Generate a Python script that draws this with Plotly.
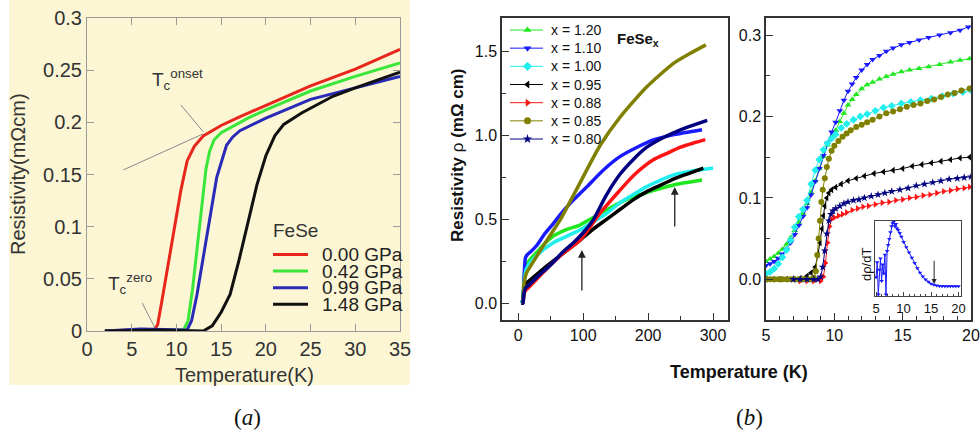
import plotly.graph_objects as go

W, H = 980, 432


def fx(px):
    return px / W


def fy(py):
    return 1 - py / H


# ---------------- Panel (a): FeSe under pressure ----------------
pressures = ["0.00 GPa", "0.42 GPa", "0.99 GPa", "1.48 GPa"]
colors_a = ["#e8261c", "#3ae63a", "#2a2ab8", "#111111"]

T_000 = [2, 5, 7.5, 7.9, 8.5, 9.5, 10.5, 11.2, 12, 13, 15, 17, 20, 25, 30, 35]
R_000 = [0, 0.001, 0.001, 0.006, 0.035, 0.085, 0.135, 0.163, 0.177, 0.187, 0.197, 0.205, 0.216, 0.235, 0.251, 0.270]

T_042 = [2, 6, 10.8, 11.3, 11.8, 12.3, 12.8, 13.3, 13.7, 14.2, 15, 16.3, 18, 20, 25, 30, 35]
R_042 = [0, 0.001, 0.001, 0.01, 0.04, 0.08, 0.12, 0.155, 0.172, 0.183, 0.19, 0.196, 0.204, 0.212, 0.230, 0.244, 0.257]

T_099 = [2, 6, 11.2, 11.7, 12.3, 13, 13.75, 14.5, 15.6, 16.3, 17.1, 18.5, 20, 25, 30, 35]
R_099 = [0, 0.002, 0.001, 0.01, 0.035, 0.07, 0.106, 0.147, 0.178, 0.186, 0.192, 0.198, 0.204, 0.222, 0.233, 0.244]

T_148 = [2, 8, 13, 14, 15, 16, 17, 18, 19, 20, 21, 22, 24, 27.5, 30, 35]
R_148 = [0, 0.001, 0.0, 0.005, 0.018, 0.035, 0.068, 0.105, 0.14, 0.168, 0.187, 0.198, 0.209, 0.225, 0.233, 0.248]

curves_a = [(T_000, R_000), (T_042, R_042), (T_099, R_099), (T_148, R_148)]

# ---------------- Panel (b): FeSe_x, full range ----------------
x_labels = ["x = 1.20", "x = 1.10", "x = 1.00", "x = 0.95", "x = 0.88", "x = 0.85", "x = 0.80"]
colors_b = ["#1fe81f", "#1a1aff", "#22eeee", "#000000", "#ff1414", "#808000", "#000080"]
symbols_b = ["triangle-up", "triangle-down", "diamond", "triangle-left", "triangle-right", "circle", "star"]

T_full_120 = [5, 7, 9, 11, 14, 18, 30, 42, 54, 75, 95, 115, 136, 157, 178, 198, 220, 239, 260, 283]
R_full_120 = [0, 0.02, 0.15, 0.22, 0.24, 0.26, 0.31, 0.36, 0.40, 0.44, 0.466, 0.51, 0.556, 0.60, 0.635, 0.66, 0.685, 0.705, 0.72, 0.735]

T_full_110 = [5, 7, 9, 11, 14, 20, 29, 40, 54, 65, 80, 106, 130, 157, 183, 208, 240, 283]
R_full_110 = [0, 0.02, 0.15, 0.27, 0.29, 0.31, 0.347, 0.41, 0.475, 0.53, 0.595, 0.695, 0.79, 0.875, 0.93, 0.974, 1.005, 1.034]

T_full_100 = [5, 7, 9, 12, 18, 30, 54, 75, 95, 115, 136, 157, 178, 198, 220, 239, 270, 300]
R_full_100 = [0, 0.02, 0.12, 0.2, 0.24, 0.29, 0.36, 0.40, 0.436, 0.485, 0.535, 0.60, 0.65, 0.695, 0.735, 0.765, 0.79, 0.806]

T_full_095 = [5, 7, 9, 12, 18, 40, 70, 95, 115, 136, 157, 177, 198, 220, 239, 260, 285]
R_full_095 = [0, 0.0, 0.1, 0.12, 0.137, 0.21, 0.30, 0.375, 0.44, 0.50, 0.56, 0.616, 0.665, 0.705, 0.74, 0.77, 0.805]

T_full_088 = [5, 7, 9, 12, 15, 30, 50, 70, 95, 126, 157, 180, 208, 230, 250, 270, 288]
R_full_088 = [0, 0.0, 0.06, 0.08, 0.09, 0.15, 0.23, 0.30, 0.375, 0.537, 0.675, 0.77, 0.855, 0.895, 0.93, 0.955, 0.975]

T_full_085 = [5, 7, 8, 9, 11, 14, 18, 30, 45, 65, 90, 126, 157, 198, 239, 265, 289]
R_full_085 = [0, 0.0, 0.05, 0.12, 0.16, 0.19, 0.215, 0.29, 0.38, 0.50, 0.68, 0.94, 1.11, 1.29, 1.43, 1.49, 1.54]

T_full_080 = [5, 7, 9, 11, 14, 30, 50, 70, 85, 100, 116, 135, 157, 178, 198, 220, 239, 265, 291]
R_full_080 = [0, 0.0, 0.06, 0.09, 0.10, 0.16, 0.23, 0.31, 0.36, 0.42, 0.50, 0.64, 0.77, 0.86, 0.93, 0.98, 1.015, 1.055, 1.09]

curves_full = [
    (T_full_120, R_full_120), (T_full_110, R_full_110), (T_full_100, R_full_100),
    (T_full_095, R_full_095), (T_full_088, R_full_088), (T_full_085, R_full_085),
    (T_full_080, R_full_080),
]

# ---------------- Panel (b): low-temperature detail ----------------
T_low_120 = [5.0, 5.3, 5.6, 5.9, 6.2, 6.5, 6.8, 7.1, 7.4, 7.7, 8.0, 8.3, 8.6, 8.9, 9.2, 9.5, 9.8, 10.1, 10.4,
             10.7, 11.0, 11.3, 11.6, 12.0, 12.4, 12.8, 13.3, 13.8, 14.3, 14.9, 15.5, 16.2, 16.9, 17.7, 18.5, 19.2, 19.9]
R_low_120 = [0.022, 0.025, 0.028, 0.032, 0.037, 0.043, 0.051, 0.060, 0.070, 0.081, 0.093, 0.107, 0.121, 0.136,
             0.151, 0.165, 0.175, 0.183, 0.194, 0.204, 0.214, 0.221, 0.227, 0.234, 0.239, 0.242, 0.246, 0.249,
             0.252, 0.255, 0.257, 0.259, 0.261, 0.264, 0.267, 0.269, 0.271]

T_low_110 = [5.0, 5.3, 5.6, 5.9, 6.2, 6.5, 6.8, 7.1, 7.4, 7.7, 8.0, 8.3, 8.6, 8.9, 9.2, 9.5, 9.8, 10.1, 10.4,
             10.7, 11.0, 11.3, 11.6, 12.0, 12.4, 12.8, 13.3, 13.8, 14.3, 14.9, 15.5, 16.2, 16.9, 17.7, 18.5, 19.2, 19.8]
R_low_110 = [0.017, 0.019, 0.022, 0.026, 0.031, 0.037, 0.045, 0.055, 0.066, 0.077, 0.088, 0.104, 0.120, 0.136,
             0.152, 0.167, 0.181, 0.193, 0.207, 0.220, 0.231, 0.240, 0.248, 0.257, 0.264, 0.270, 0.275, 0.280,
             0.284, 0.288, 0.291, 0.294, 0.297, 0.300, 0.303, 0.306, 0.310]

T_low_100 = [5.0, 5.3, 5.6, 5.9, 6.2, 6.5, 6.8, 7.1, 7.4, 7.7, 8.0, 8.3, 8.6, 8.9, 9.2, 9.5, 9.8, 10.1, 10.5,
             10.9, 11.4, 11.9, 12.4, 13.0, 13.6, 14.2, 14.9, 15.6, 16.3, 17.1, 17.9, 18.7, 19.4, 20.0]
R_low_100 = [0.007, 0.009, 0.013, 0.019, 0.027, 0.036, 0.048, 0.064, 0.077, 0.086, 0.097, 0.117, 0.134, 0.147,
             0.159, 0.167, 0.173, 0.178, 0.186, 0.191, 0.196, 0.200, 0.203, 0.207, 0.211, 0.213, 0.216, 0.218,
             0.220, 0.222, 0.225, 0.228, 0.230, 0.232]

T_low_095 = [5.0, 5.5, 6.0, 6.5, 7.0, 7.5, 8.0, 8.3, 8.6, 8.8, 8.95, 9.1, 9.2, 9.3, 9.45, 9.6, 9.8, 10.1, 10.5,
             11.0, 11.6, 12.2, 12.9, 13.6, 14.3, 15.0, 15.7, 16.4, 17.1, 17.8, 18.5, 19.2, 19.9]
R_low_095 = [0.0, 0.0, 0.0, 0.0, 0.0, 0.001, 0.004, 0.008, 0.015, 0.03, 0.045, 0.062, 0.078, 0.09, 0.1, 0.106,
             0.11, 0.113, 0.117, 0.121, 0.124, 0.127, 0.13, 0.132, 0.134, 0.136, 0.139, 0.141, 0.143, 0.145,
             0.147, 0.149, 0.150]

T_low_088 = [7.5, 8.0, 8.5, 9.0, 9.2, 9.35, 9.5, 9.65, 9.8, 10.0, 10.3, 10.6, 10.9, 11.3, 11.7, 12.1, 12.5,
             13.0, 13.5, 14.0, 14.5, 15.0, 15.5, 16.0, 16.5, 17.0, 17.5, 18.0, 18.5, 19.0, 19.5, 19.9]
R_low_088 = [-0.002, -0.002, -0.002, -0.002, 0.003, 0.02, 0.045, 0.065, 0.074, 0.076, 0.078, 0.08, 0.082,
             0.085, 0.087, 0.089, 0.09, 0.092, 0.094, 0.095, 0.097, 0.098, 0.1, 0.101, 0.103, 0.104, 0.106,
             0.108, 0.109, 0.111, 0.112, 0.1135]

T_low_085 = [5.0, 5.3, 5.6, 5.9, 6.2, 6.5, 6.8, 7.1, 7.4, 7.7, 8.0, 8.3, 8.5, 8.65, 8.75, 8.85, 8.95, 9.05,
             9.15, 9.3, 9.45, 9.6, 9.8, 10.0, 10.3, 10.6, 10.9, 11.2, 11.6, 12.0, 12.4, 12.8, 13.3, 13.8, 14.3,
             14.8, 15.3, 15.8, 16.3, 16.8, 17.3, 17.8, 18.3, 18.8, 19.3, 19.9]
R_low_085 = [0.0, 0.0, 0.0, 0.0, 0.0, 0.0, 0.0, 0.0, 0.0, 0.0, 0.0, 0.0, 0.002, 0.01, 0.03, 0.05, 0.072, 0.095,
             0.11, 0.124, 0.138, 0.148, 0.158, 0.164, 0.170, 0.175, 0.179, 0.183, 0.187, 0.190, 0.193, 0.196,
             0.2, 0.204, 0.206, 0.209, 0.212, 0.214, 0.216, 0.219, 0.221, 0.224, 0.227, 0.229, 0.232, 0.2345]

T_low_080 = [7.0, 7.5, 8.0, 8.5, 8.8, 9.0, 9.15, 9.3, 9.45, 9.6, 9.75, 9.9, 10.1, 10.4, 10.7, 11.0, 11.4, 11.8,
             12.2, 12.7, 13.2, 13.7, 14.2, 14.8, 15.4, 16.0, 16.6, 17.2, 17.8, 18.4, 19.0, 19.5, 20.0]
R_low_080 = [0.0, 0.0, 0.0, 0.0, 0.0, 0.003, 0.015, 0.035, 0.056, 0.072, 0.08, 0.084, 0.087, 0.09, 0.093, 0.095,
             0.097, 0.098, 0.1, 0.102, 0.104, 0.106, 0.108, 0.11, 0.112, 0.115, 0.117, 0.119, 0.121, 0.123,
             0.124, 0.125, 0.126]

curves_low = [
    (T_low_120, R_low_120), (T_low_110, R_low_110), (T_low_100, R_low_100),
    (T_low_095, R_low_095), (T_low_088, R_low_088), (T_low_085, R_low_085),
    (T_low_080, R_low_080),
]

# Inset: derivative of resistivity for x = 1.10 (arbitrary units)
T_deriv = [5.0, 5.2, 5.4, 5.6, 5.8, 6.0, 6.2, 6.4, 6.6, 6.8, 7.0, 7.2, 7.4, 7.6, 7.8, 8.0, 8.2, 8.4, 8.6, 8.8,
           9.0, 9.3, 9.6, 10.0, 10.5, 11.0, 11.5, 12.0, 12.5, 13.0, 13.5, 14.0, 14.5, 15.0, 15.5, 16.0, 16.5,
           17.0, 17.5, 18.0, 18.5, 19.0, 19.5, 20.0]
D_deriv = [0.25, 0.45, 0.02, 0.35, 0.50, 0.20, 0.42, 0.30, 0.55, 0.02, 0.60, 0.68, 0.76, 0.85, 0.93, 0.97,
           0.99, 0.93, 0.96, 0.90, 0.88, 0.84, 0.79, 0.72, 0.65, 0.58, 0.51, 0.44, 0.37, 0.31, 0.26, 0.22,
           0.19, 0.165, 0.15, 0.14, 0.135, 0.13, 0.13, 0.13, 0.13, 0.13, 0.13, 0.13]

# ---------------- layout geometry (pixels) ----------------
A_L, A_R, A_T, A_B = 87, 400, 18, 331
BL_L, BL_R = 502, 728
BR_L, BR_R = 766, 971
B_T, B_B = 18, 320
IN_L, IN_R, IN_T, IN_B = 875, 961, 221, 296

SANS = "Liberation Sans, Arial, sans-serif"
SERIF = "Liberation Serif, DejaVu Serif, serif"

fig = go.Figure()

for (t, r), name, c in zip(curves_a, pressures, colors_a):
    fig.add_trace(go.Scatter(x=t, y=r, mode="lines", name=name,
                             line=dict(color=c, width=3), xaxis="x", yaxis="y", showlegend=False))

for (t, r), name, c in zip(curves_full, x_labels, colors_b):
    fig.add_trace(go.Scatter(x=t, y=r, mode="lines", name=name,
                             line=dict(color=c, width=3.5, shape="spline", smoothing=0.6),
                             xaxis="x2", yaxis="y2", showlegend=False))

for (t, r), name, c, s in zip(curves_low, x_labels, colors_b, symbols_b):
    fig.add_trace(go.Scatter(x=t, y=r, mode="lines+markers", name=name,
                             line=dict(color=c, width=1),
                             marker=dict(symbol=s, size=6, color=c, line=dict(width=0)),
                             xaxis="x3", yaxis="y3", showlegend=False))

fig.add_trace(go.Scatter(x=T_deriv, y=D_deriv, mode="lines+markers",
                         line=dict(color="#1a1aff", width=1),
                         marker=dict(symbol="triangle-down", size=4, color="#1a1aff"),
                         xaxis="x4", yaxis="y4", showlegend=False))

# Legend glyphs for panel (b), drawn on a full-page pixel axis
LEG_X0, LEG_X1, LEG_TXT, LEG_Y0, LEG_DY = 510, 543, 549, 30, 18.17
for i, (name, c, s) in enumerate(zip(x_labels, colors_b, symbols_b)):
    yy = LEG_Y0 + i * LEG_DY
    fig.add_trace(go.Scatter(x=[LEG_X0, LEG_X1], y=[yy, yy], mode="lines",
                             line=dict(color=c, width=1), xaxis="x5", yaxis="y5",
                             showlegend=False, hoverinfo="skip"))
    fig.add_trace(go.Scatter(x=[(LEG_X0 + LEG_X1) / 2 + 1], y=[yy], mode="markers",
                             marker=dict(symbol=s, size=7, color=c), xaxis="x5", yaxis="y5",
                             showlegend=False, hoverinfo="skip"))

annotations = []
shapes = []


def label(text, px, py, size, color="#333", family=SANS, xanchor="center", angle=0):
    annotations.append(dict(text=text, x=fx(px), y=fy(py), xref="paper", yref="paper",
                            xanchor=xanchor, yanchor="middle", textangle=angle, showarrow=False,
                            font=dict(family=family, size=size, color=color)))


# cream background of panel (a)
shapes.append(dict(type="rect", xref="paper", yref="paper", x0=fx(9), x1=fx(410), y0=fy(385), y1=fy(0),
                   fillcolor="#fcf6d5", line=dict(width=0), layer="below"))

# legend of panel (a)
LA_X0, LA_X1, LA_TXT, LA_Y0, LA_DY = 273, 308, 320, 254.5, 16.6
label("FeSe", 271, 230, 19, xanchor="left")
for i, (name, c) in enumerate(zip(pressures, colors_a)):
    yy = LA_Y0 + i * LA_DY
    shapes.append(dict(type="line", xref="paper", yref="paper", x0=fx(LA_X0), x1=fx(LA_X1),
                       y0=fy(yy), y1=fy(yy), line=dict(color=c, width=3)))
    label(name, LA_TXT, yy, 19, color="#222", xanchor="left")

# legend text of panel (b)
for i, name in enumerate(x_labels):
    label(name, LEG_TXT, LEG_Y0 + i * LEG_DY, 14, color="#111", xanchor="left")

# Tc markers in panel (a)
shapes.append(dict(type="line", xref="x", yref="y", x0=10.5, y0=0.2166, x1=13.0, y1=0.191,
                   line=dict(color="#8a8a8a", width=1)))
shapes.append(dict(type="line", xref="x", yref="y", x0=4.06, y0=0.1544, x1=13.0, y1=0.189,
                   line=dict(color="#8a8a8a", width=1)))
shapes.append(dict(type="line", xref="x", yref="y", x0=6.17, y0=0.0268, x1=7.6, y1=0.003,
                   line=dict(color="#8a8a8a", width=1)))
label("T<sub>c</sub><sup>onset</sup>", 150, 80, 19, xanchor="left")
label("T<sub>c</sub><sup>zero</sup>", 106, 283, 19, xanchor="left")

# axis titles
label("Resistivity(mΩcm)", 18, 174, 20, angle=-90)
label("Temperature(K)", 244.5, 375, 20)
label("<b>Resistivity</b> ρ <b>(mΩ cm)</b>", 457, 155, 17, color="#111", angle=-90)
label("<b>Temperature (K)</b>", 738.5, 372, 18, color="#111")
label("<b>FeSe<sub>x</sub></b>", 615, 40, 15, color="#111", xanchor="left")
label("dρ/dT", 866, 265, 13, color="#111", angle=-90)

# panel captions
label("(<i>a</i>)", 248, 417, 23, color="#111", family=SERIF)
label("(<i>b</i>)", 749, 417, 23, color="#111", family=SERIF)

# arrows
arrow_style = dict(text="", showarrow=True, arrowhead=2, arrowsize=1.2, arrowwidth=1.3, arrowcolor="#222")
annotations.append(dict(x=98, y=0.317, ax=98, ay=0.067, xref="x2", yref="y2", axref="x2", ayref="y2",
                        **arrow_style))
annotations.append(dict(x=241, y=0.693, ax=241, ay=0.448, xref="x2", yref="y2", axref="x2", ayref="y2",
                        **arrow_style))
annotations.append(dict(x=15.56, y=0.16, ax=15.56, ay=0.49, xref="x4", yref="y4", axref="x4", ayref="y4",
                        text="", showarrow=True, arrowhead=2, arrowsize=1, arrowwidth=1, arrowcolor="#222"))

a_axis = dict(showline=True, linecolor="#9a9a9a", linewidth=1, mirror="ticks", ticks="inside", ticklen=7,
              tickcolor="#9a9a9a", showgrid=False, zeroline=False,
              tickfont=dict(family=SANS, size=20, color="#333"))
b_axis = dict(showline=True, linecolor="#333", linewidth=1.5, mirror=True, ticks="inside", ticklen=7,
              tickwidth=1.2, tickcolor="#333", showgrid=False, zeroline=False,
              tickfont=dict(family=SANS, size=16, color="#111"))

fig.update_layout(
    width=W, height=H, margin=dict(l=0, r=0, t=0, b=0, autoexpand=False),
    paper_bgcolor="white", plot_bgcolor="rgba(0,0,0,0)", showlegend=False,
    xaxis=dict(a_axis, domain=[fx(A_L), fx(A_R)], range=[0, 35], dtick=5, anchor="y"),
    yaxis=dict(a_axis, domain=[fy(A_B), fy(A_T)], range=[0, 0.3], dtick=0.05, anchor="x"),
    xaxis2=dict(b_axis, domain=[fx(BL_L), fx(BL_R)], range=[-25, 323], dtick=100, tick0=0, anchor="y2",
                minor=dict(dtick=50, tick0=0, ticks="inside", ticklen=4, tickcolor="#333")),
    yaxis2=dict(b_axis, domain=[fy(B_B), fy(B_T)], range=[-0.1, 1.7], dtick=0.5, tick0=0, tickformat=".1f",
                anchor="x2", minor=dict(dtick=0.25, tick0=0, ticks="inside", ticklen=4, tickcolor="#333")),
    xaxis3=dict(b_axis, domain=[fx(BR_L), fx(BR_R)], range=[5, 20], dtick=5, tick0=0, anchor="y3",
                minor=dict(dtick=1, tick0=0, ticks="inside", ticklen=4, tickcolor="#333")),
    yaxis3=dict(b_axis, domain=[fy(B_B), fy(B_T)], range=[-0.05, 0.321], dtick=0.1, tick0=0, tickformat=".1f",
                anchor="x3", minor=dict(dtick=0.05, tick0=0, ticks="inside", ticklen=4, tickcolor="#333")),
    xaxis4=dict(showline=True, linecolor="#444", linewidth=1, mirror=True, ticks="inside", ticklen=4,
                tickcolor="#444", showgrid=False, zeroline=False, range=[4.8, 20.45], dtick=5, tick0=0,
                tickfont=dict(family=SANS, size=13, color="#111"), domain=[fx(IN_L), fx(IN_R)], anchor="y4",
                minor=dict(dtick=1, tick0=0, ticks="inside", ticklen=2.5, tickcolor="#444")),
    yaxis4=dict(showline=True, linecolor="#444", linewidth=1, mirror=True, ticks="", showticklabels=False,
                showgrid=False, zeroline=False, range=[0, 1.0], domain=[fy(IN_B), fy(IN_T)], anchor="x4"),
    xaxis5=dict(domain=[0, 1], range=[0, W], visible=False, anchor="y5"),
    yaxis5=dict(domain=[0, 1], range=[H, 0], visible=False, anchor="x5"),
    annotations=annotations,
    shapes=shapes,
)

fig.write_html("out.html")
